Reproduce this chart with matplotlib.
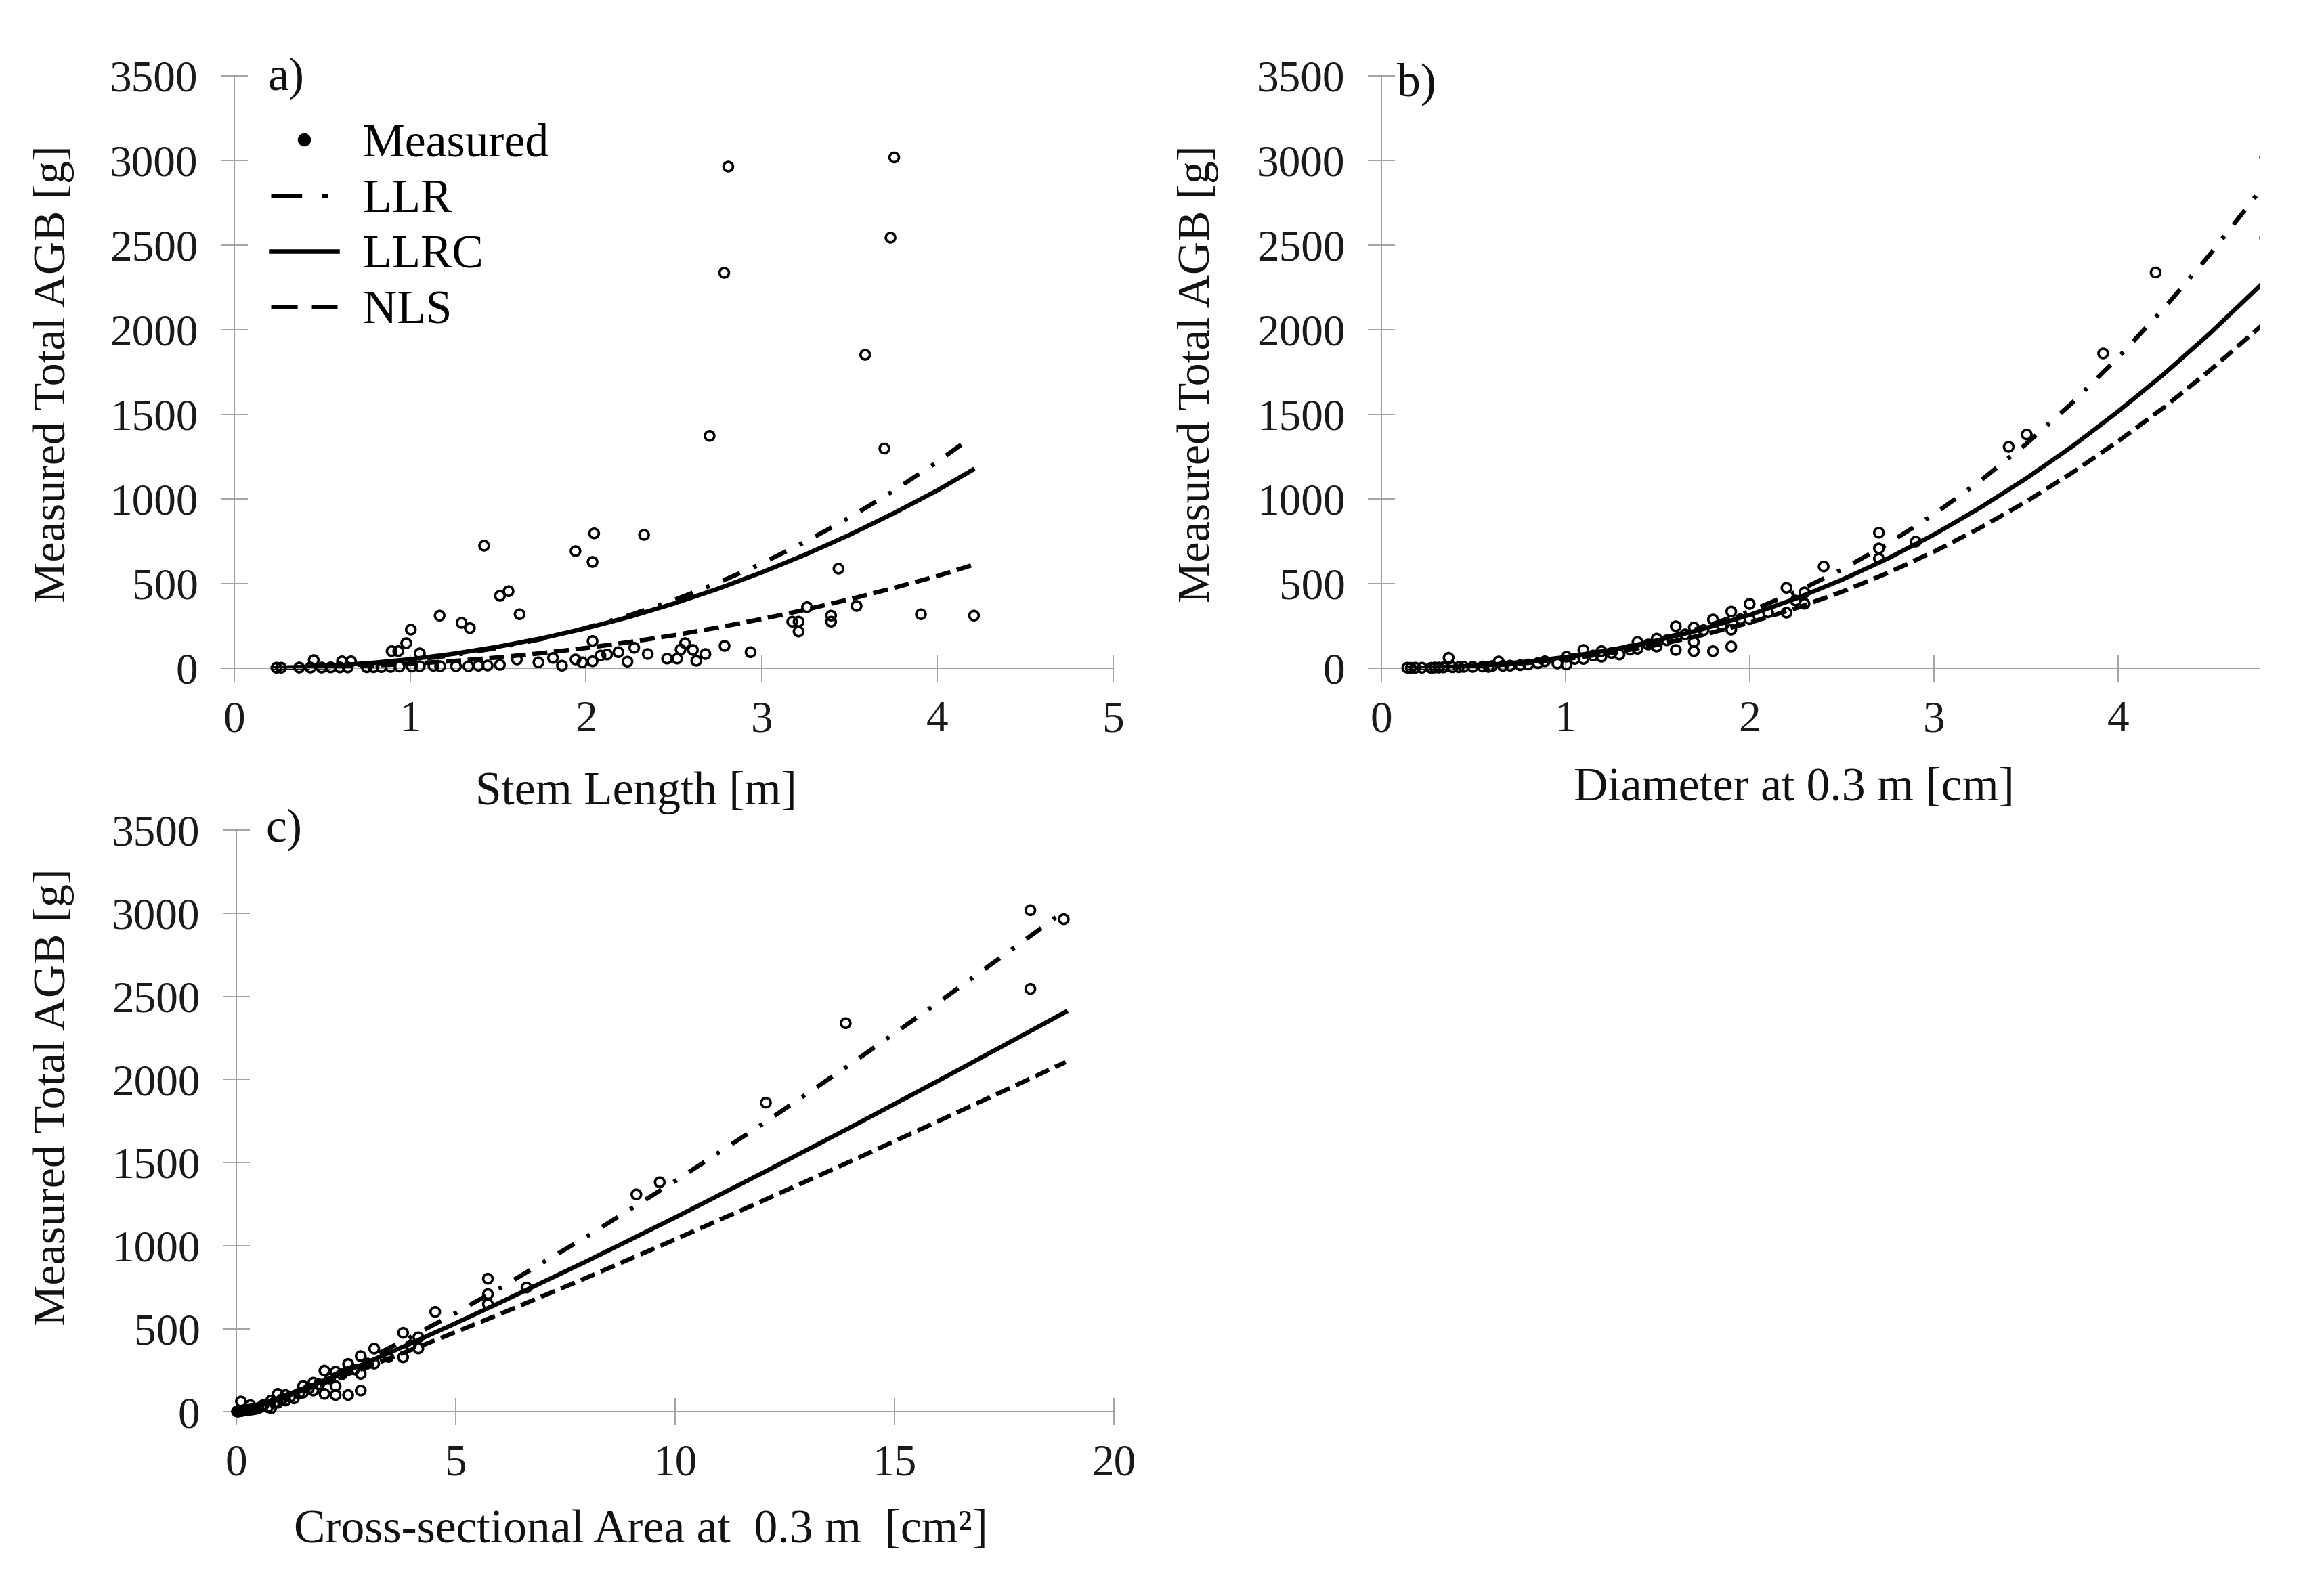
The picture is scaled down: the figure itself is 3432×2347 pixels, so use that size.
import matplotlib
matplotlib.use("Agg")
import matplotlib.pyplot as plt
from matplotlib.lines import Line2D

plt.rcParams['font.family'] = ['Liberation Serif', 'DejaVu Serif']

# ---------------- data ----------------
# Panel a: stem length [m] vs measured AGB [g]
stem_len = [0.240, 0.266, 0.369, 0.433, 0.452, 0.497, 0.548, 0.600, 0.613, 0.645,
            0.664, 0.754, 0.792, 0.837, 0.889, 0.895, 0.933, 0.940, 0.978, 1.004,
            1.010, 1.055, 1.055, 1.133, 1.168, 1.171, 1.261, 1.293, 1.332, 1.340,
            1.389, 1.421, 1.441, 1.511, 1.511, 1.560, 1.608, 1.623, 1.730, 1.813,
            1.864, 1.941, 1.941, 1.980, 2.038, 2.038, 2.038, 2.047, 2.083, 2.121,
            2.185, 2.237, 2.275, 2.331, 2.352, 2.462, 2.519, 2.539, 2.564, 2.609,
            2.628, 2.680, 2.704, 2.787, 2.789, 2.810, 2.937, 3.174, 3.210, 3.210,
            3.258, 3.395, 3.395, 3.437, 3.540, 3.589, 3.698, 3.733, 3.754, 3.906,
            4.208]
agb_a = [3, 3, 4, 4, 48, 4, 5, 5, 41, 5,
         41, 6, 6, 7, 8, 101, 101, 10, 148, 228,
         10, 12, 88, 14, 311, 12, 12, 268, 12, 237,
         15, 724, 16, 20, 428, 455, 52, 319, 35, 61,
         15, 52, 692, 35, 41, 161, 628, 797, 75, 81,
         95, 39, 121, 788, 84, 57, 57, 111, 148, 108,
         44, 84, 1373, 2336, 132, 2964, 95, 275, 275, 217,
         361, 311, 275, 588, 368, 1852, 1298, 2544, 3018, 319,
         311]

# Panels b and c: diameter at 0.3 m [cm], cross-sectional area [cm2], AGB [g]
diam = [0.141, 0.160, 0.184, 0.220, 0.270, 0.290, 0.312, 0.337, 0.365, 0.386,
        0.420, 0.447, 0.496, 0.550, 0.582, 0.600, 0.637, 0.660, 0.699, 0.754,
        0.797, 0.850, 0.888, 0.956, 1.005, 1.005, 1.050, 1.097, 1.097, 1.150,
        1.195, 1.195, 1.250, 1.293, 1.350, 1.391, 1.391, 1.450, 1.495, 1.495,
        1.550, 1.599, 1.599, 1.650, 1.697, 1.697, 1.697, 1.750, 1.801, 1.801,
        1.850, 1.900, 1.900, 1.900, 1.950, 2.000, 2.000, 2.100, 2.200, 2.200,
        2.250, 2.298, 2.298, 2.402, 2.702, 2.702, 2.702, 2.902, 3.407, 3.505,
        3.920, 4.205, 4.800, 4.800, 4.900]
area = [0.016, 0.020, 0.027, 0.038, 0.057, 0.066, 0.077, 0.089, 0.105, 0.117,
        0.139, 0.157, 0.193, 0.238, 0.266, 0.283, 0.319, 0.342, 0.384, 0.447,
        0.499, 0.568, 0.619, 0.718, 0.793, 0.793, 0.866, 0.945, 0.945, 1.039,
        1.122, 1.122, 1.227, 1.313, 1.431, 1.520, 1.520, 1.651, 1.755, 1.755,
        1.887, 2.008, 2.008, 2.138, 2.262, 2.262, 2.262, 2.405, 2.548, 2.548,
        2.688, 2.835, 2.835, 2.835, 2.987, 3.142, 3.142, 3.464, 3.801, 3.801,
        3.976, 4.148, 4.148, 4.532, 5.734, 5.734, 5.734, 6.614, 9.117, 9.649,
        12.069, 13.888, 18.096, 18.096, 18.857]
agb_bc = [3, 2, 3, 3, 2, 4, 4, 5, 62, 6,
          6, 8, 8, 10, 8, 12, 40, 14, 15, 18,
          22, 30, 41, 28, 68, 22, 55, 108, 55, 75,
          101, 68, 90, 81, 110, 155, 115, 140, 175, 128,
          165, 248, 108, 200, 241, 155, 101, 225, 288, 101,
          255, 335, 228, 128, 290, 380, 290, 330, 475, 328,
          400, 448, 381, 601, 801, 708, 648, 748, 1308, 1381,
          1860, 2338, 3018, 2544, 2964]

# Model curves
curve_x_a = [0.22, 0.4, 0.6, 0.8, 1.0, 1.25, 1.5, 1.75, 2.0, 2.25, 2.5, 2.75,
             3.0, 3.25, 3.5, 3.75, 4.0, 4.2]
llr_a = [1.3, 5.3, 13.9, 27.3, 46.3, 78.4, 120.6, 173, 238, 314, 402, 504,
         619, 748, 890, 1048, 1220, 1369]
llrc_a = [2.0, 7.4, 17.6, 32.8, 53, 85.7, 127, 177, 236, 304, 382, 469,
          566, 672, 788, 915, 1051, 1172]
nls_a = [0.95, 3.5, 8.6, 16.1, 26.2, 42.7, 63.7, 89.2, 119.5, 154.7, 194.9, 240,
         290.6, 346, 407, 474, 545, 610]

curve_x_b = [0.15, 0.4, 0.6, 0.8, 1.0, 1.25, 1.5, 1.75, 2.0, 2.25, 2.5, 2.75,
             3.0, 3.25, 3.5, 3.75, 4.0, 4.25, 4.5, 4.77, 4.9]
llr_b = [0.6, 6.6, 17.8, 36.0, 62.1, 107, 167, 243.6, 337, 450, 582, 735,
         909, 1105, 1323, 1566, 1834, 2126, 2445, 2818, 3009]
llrc_b = [0.9, 8.2, 20.6, 39.5, 65.5, 108.6, 164.2, 232.8, 315, 411, 522, 648,
          789, 947, 1120, 1309, 1516, 1738, 1979, 2258, 2400]
nls_b = [0.67, 6.5, 16.6, 32.3, 54.1, 90.7, 138.3, 197.6, 269, 354, 451, 563,
         688, 828, 983, 1154, 1340, 1541, 1760, 2014, 2143]

curve_x_c = [0.02, 0.5, 1, 2, 3, 4, 5, 6, 8, 10, 12, 14, 16, 18, 18.9]
llr_c = [0.7, 35.8, 83.4, 194.4, 318.9, 453, 595, 743, 1057, 1388, 1733, 2092,
         2463, 2844, 3018]
llrc_c = [1.0, 39.3, 86.1, 188.8, 299, 414, 533, 656, 908, 1169, 1438, 1712,
          1992, 2277, 2406]
nls_c = [1.0, 37.1, 80.1, 173, 271.8, 374, 480, 587, 809, 1037, 1270, 1507,
         1749, 1993, 2104]

y_ticks = [0, 500, 1000, 1500, 2000, 2500, 3000, 3500]

# ---------------- layout ----------------
W, H = 3432, 2347
fig = plt.figure(figsize=(W / 100, H / 100), dpi=100)
fig.patch.set_facecolor('white')


def rect(x0, x1, ybot, ytop):
    return [x0 / W, 1 - ybot / H, (x1 - x0) / W, (ybot - ytop) / H]


GRAY = '#a3a3a3'
FS_TICK = 47
FS_X = 50
FS_Y = 49
FS_LEG = 50
LW = 4.7
LS_LLR = (0, (4.2, 3.3, 0.8, 3.3))
LS_NLS = (0, (3.4, 1.5))


def style(ax, xlim, xticks):
    ax.set_xlim(*xlim)
    ax.set_ylim(-60, 3500)
    ax.spines['top'].set_visible(False)
    ax.spines['right'].set_visible(False)
    ax.spines['bottom'].set_position(('data', 0))
    for s in ('left', 'bottom'):
        ax.spines[s].set_color(GRAY)
        ax.spines[s].set_linewidth(1.5)
    ax.set_xticks(xticks)
    ax.set_yticks(y_ticks)
    ax.tick_params(direction='inout', length=29, width=1.4, color=GRAY,
                   labelsize=FS_TICK, labelcolor='#1a1a1a')
    ax.tick_params(axis='y', pad=24)
    ax.tick_params(axis='x', pad=20)
    ax.patch.set_alpha(0)


def draw(ax, xs, ys, cx, llr, llrc, nls, clip):
    ax.plot(cx, llr, color='black', lw=LW, ls=LS_LLR)
    ax.plot(cx, llrc, color='black', lw=LW, ls='-')
    ax.plot(cx, nls, color='black', lw=LW, ls=LS_NLS)
    ax.scatter(xs, ys, s=10.0 ** 2, facecolors='none', edgecolors='black',
               linewidths=2.6, clip_on=clip, zorder=3)


ax_a = fig.add_axes(rect(346, 1644, 1002, 112))
style(ax_a, (0, 5), [0, 1, 2, 3, 4, 5])
draw(ax_a, stem_len, agb_a, curve_x_a, llr_a, llrc_a, nls_a, False)

ax_b = fig.add_axes(rect(2040, 3337, 1002, 112))
style(ax_b, (0, 4.77), [0, 1, 2, 3, 4])
draw(ax_b, diam, agb_bc, curve_x_b, llr_b, llrc_b, nls_b, True)

ax_c = fig.add_axes(rect(349, 1645, 2100, 1226))
style(ax_c, (0, 20), [0, 5, 10, 15, 20])
draw(ax_c, area, agb_bc, curve_x_c, llr_c, llrc_c, nls_c, False)


def ftext(x, y, s, fs, **kw):
    fig.text(x / W, 1 - y / H, s, fontsize=fs, color='#111111', **kw)


# axis titles
ftext(79, 552, 'Measured Total AGB [g]', FS_Y, rotation=90, ha='center', va='center')
ftext(1769, 552, 'Measured Total AGB [g]', FS_Y, rotation=90, ha='center', va='center')
ftext(79, 1620, 'Measured Total AGB [g]', FS_Y, rotation=90, ha='center', va='center')
ftext(939, 1171, 'Stem Length [m]', FS_X, ha='center', va='center')
ftext(2649, 1165, 'Diameter at 0.3 m [cm]', FS_X, ha='center', va='center')
ftext(946, 2261, 'Cross-sectional Area at  0.3 m  [cm\u00b2]', FS_X, ha='center', va='center')

# panel letters
ftext(396, 116, 'a)', FS_X, ha='left', va='center')
ftext(2063, 124, 'b)', FS_X, ha='left', va='center')
ftext(392, 1226, 'c)', FS_X, ha='left', va='center')

# legend
handles = [
    Line2D([], [], ls='none', marker='o', ms=13, color='black'),
    Line2D([], [], color='black', lw=LW, ls=(0, (7.0, 4.5, 1.3, 5))),
    Line2D([], [], color='black', lw=LW, ls='-'),
    Line2D([], [], color='black', lw=LW, ls=(0, (6.0, 3.2))),
]
labels = ['Measured', 'LLR', 'LLRC', 'NLS']
fig.legend(handles, labels, loc='upper left', bbox_to_anchor=(400 / W, 1 - 182 / H),
           bbox_transform=fig.transFigure, frameon=False, fontsize=FS_LEG,
           handlelength=1.41, handletextpad=0.55, labelspacing=0.27,
           borderpad=0, borderaxespad=0)

fig.savefig('out.png', dpi=100, facecolor='white')
